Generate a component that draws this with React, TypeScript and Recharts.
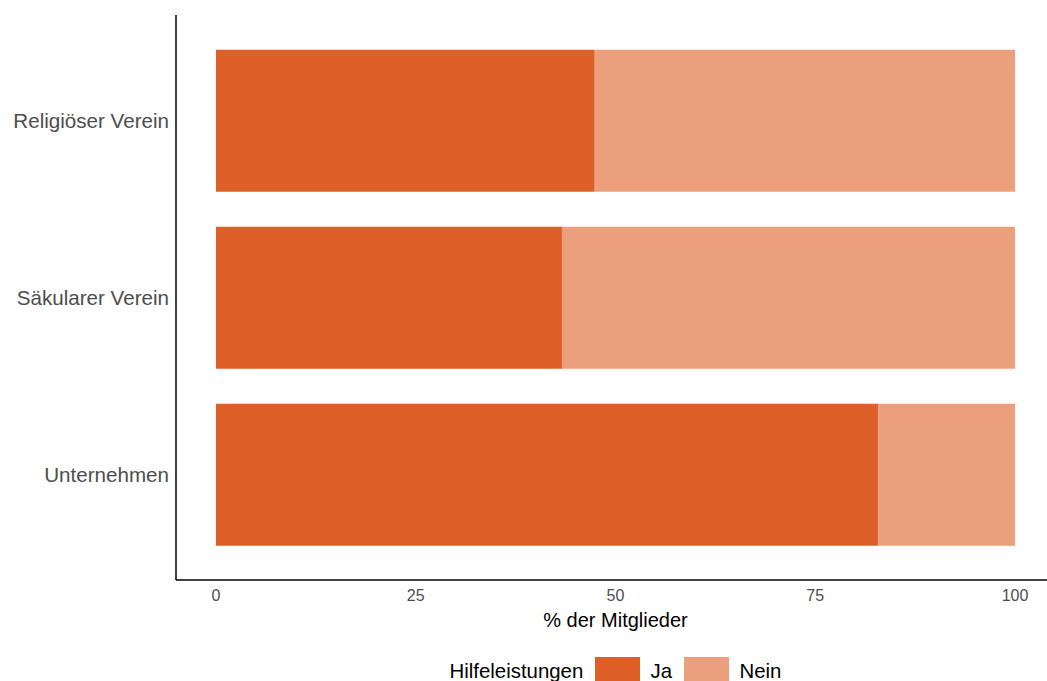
import { BarChart, Bar, XAxis, YAxis } from "recharts";

const categories = ["Religiöser Verein", "Säkularer Verein", "Unternehmen"];
const jaValues = [47.4, 43.3, 82.9];
const neinValues = [52.6, 56.7, 17.1];
const xTicks = [0, 25, 50, 75, 100];
const legendTitle = "Hilfeleistungen";
const legendItems = ["Ja", "Nein"];
const colors = ["#DE5F28", "#EB9F7C"];

const font = "'Liberation Sans', Arial, sans-serif";

export default function App() {
  const data = categories.map((name, i) => ({
    name,
    ja: jaValues[i],
    nein: neinValues[i],
  }));

  return (
    <div
      style={{
        position: "fixed",
        left: 0,
        top: 0,
        width: 1047,
        height: 681,
        overflow: "hidden",
        background: "#fff",
        fontFamily: font,
      }}
    >
      <BarChart
        width={1060}
        height={681}
        data={data}
        layout="vertical"
        margin={{ top: 15, right: 5, left: 0, bottom: 51 }}
        barCategoryGap="10%"
      >
        <XAxis
          type="number"
          domain={[-5, 105]}
          ticks={xTicks}
          allowDataOverflow
          tickLine={false}
          tickSize={0}
          tickMargin={10}
          height={50}
          axisLine={{ stroke: "#000", strokeWidth: 1.5 }}
          tick={{ fill: "#4D4D4D", fontSize: 16, fontFamily: font }}
          label={{
            value: "% der Mitglieder",
            position: "insideBottom",
            offset: 3.5,
            fill: "#000",
            fontSize: 20,
            fontFamily: font,
          }}
        />
        <YAxis
          type="category"
          dataKey="name"
          width={176}
          tickLine={false}
          tickSize={0}
          tickMargin={7}
          padding={{ top: 17, bottom: 17 }}
          axisLine={{ stroke: "#000", strokeWidth: 1.5 }}
          tick={{ fill: "#4D4D4D", fontSize: 20.6, fontFamily: font }}
        />
        <Bar dataKey="ja" stackId="a" fill={colors[0]} isAnimationActive={false} />
        <Bar dataKey="nein" stackId="a" fill={colors[1]} isAnimationActive={false} />
      </BarChart>

      <div style={{ position: "absolute", left: 449.5, top: 661, fontSize: 20.4, lineHeight: "20px", color: "#000", whiteSpace: "nowrap" }}>
        {legendTitle}
      </div>
      {legendItems.map((label, i) => (
        <div key={label}>
          <div
            style={{
              position: "absolute",
              left: i === 0 ? 595 : 684,
              top: 657,
              width: 45,
              height: 45,
              background: colors[i],
            }}
          />
          <div
            style={{
              position: "absolute",
              left: i === 0 ? 650.5 : 739.5,
              top: 661,
              fontSize: 20.4,
              lineHeight: "20px",
              color: "#000",
              whiteSpace: "nowrap",
            }}
          >
            {label}
          </div>
        </div>
      ))}
    </div>
  );
}
